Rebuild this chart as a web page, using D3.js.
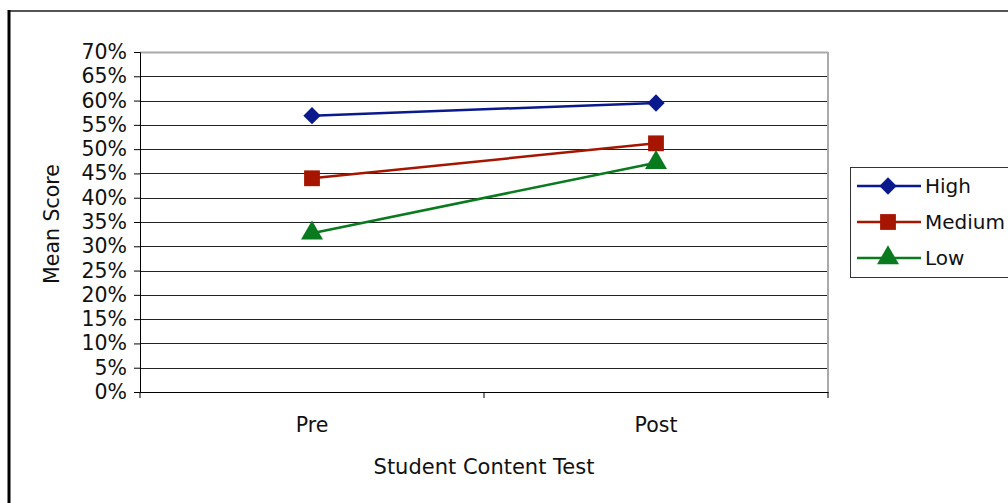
<!DOCTYPE html>
<html>
<head>
<meta charset="utf-8">
<script src="https://cdn.jsdelivr.net/npm/d3@7"></script>
<style>
  body { margin: 0; background: #fff; }
  svg { display: block; font-family: "DejaVu Sans", Verdana, sans-serif; }
</style>
</head>
<body>
<svg id="chart" width="1008" height="503"></svg>
<script>
// Dữ liệu
const categories = ["Pre", "Post"];
const seriesNames = ["High", "Medium", "Low"];
const highVals = [0.569, 0.595];
const mediumVals = [0.440, 0.512];
const lowVals = [0.327, 0.472];
const yTicks = [0, 0.05, 0.1, 0.15, 0.2, 0.25, 0.3, 0.35, 0.4, 0.45, 0.5, 0.55, 0.6, 0.65, 0.7];

const colors = { High: "#0a1a8c", Medium: "#a51500", Low: "#0a7a1e" };
const series = [
  { name: "High", values: highVals },
  { name: "Medium", values: mediumVals },
  { name: "Low", values: lowVals }
];

// Marker: kim cương = hình vuông xoay 45°
function marker(sel, name) {
  if (name === "High") {
    sel.attr("d", d3.symbol().type(d3.symbolSquare).size(150)())
      .attr("transform", function () { return d3.select(this).attr("transform") + " rotate(45)"; });
  } else if (name === "Medium") {
    sel.attr("d", d3.symbol().type(d3.symbolSquare).size(250)());
  } else {
    sel.attr("d", d3.symbol().type(d3.symbolTriangle).size(210)());
  }
}

const svg = d3.select("#chart");
const margin = { left: 140, top: 52 };
const innerW = 828 - margin.left;
const innerH = 392 - margin.top;

// Khung ngoài
svg.append("line").attr("x1", 9).attr("x2", 1008).attr("y1", 11).attr("y2", 11)
  .attr("stroke", "#555").attr("stroke-width", 2);
svg.append("line").attr("x1", 9).attr("x2", 9).attr("y1", 10).attr("y2", 503)
  .attr("stroke", "#000").attr("stroke-width", 3);

const g = svg.append("g").attr("transform", `translate(${margin.left},${margin.top})`);

const x = d3.scaleBand().domain(categories).range([0, innerW]);
const y = d3.scaleLinear().domain([0, 0.7]).range([innerH, 0]);

// Grid ngang
g.append("g")
  .selectAll("line")
  .data(yTicks.filter(t => t > 0 && t < 0.7))
  .enter().append("line")
  .attr("x1", 0).attr("x2", innerW)
  .attr("y1", d => Math.round(y(d)) + 0.5).attr("y2", d => Math.round(y(d)) + 0.5)
  .attr("stroke", "#222").attr("stroke-width", 1);

// Viền vùng vẽ (trên, phải)
g.append("line").attr("x1", 0).attr("x2", innerW).attr("y1", 0.5).attr("y2", 0.5)
  .attr("stroke", "#aaa").attr("stroke-width", 2);
g.append("line").attr("x1", innerW).attr("x2", innerW).attr("y1", 0).attr("y2", innerH)
  .attr("stroke", "#aaa").attr("stroke-width", 2);

// Trục Y
const yAxis = g.append("g")
  .call(d3.axisLeft(y).tickValues(yTicks).tickFormat(d3.format(".0%")).tickSize(6).tickPadding(7));
yAxis.select(".domain").attr("stroke", "#000");
yAxis.selectAll("line").attr("stroke", "#000");
yAxis.selectAll("text").style("font-size", "20.5px").attr("fill", "#111")
  .attr("font-family", "DejaVu Sans, Verdana, sans-serif");

// Trục X
const xAxis = g.append("g")
  .attr("transform", `translate(0,${innerH})`)
  .call(d3.axisBottom(x).tickSize(0).tickPadding(25));
xAxis.select(".domain").attr("stroke", "#000");
xAxis.selectAll("text").style("font-size", "20.5px").attr("fill", "#111")
  .attr("font-family", "DejaVu Sans, Verdana, sans-serif");
// vạch chia giữa các nhóm
const bounds = [0, ...categories.map(c => x(c) + x.bandwidth())];
g.selectAll(".xtick")
  .data(bounds)
  .enter().append("line")
  .attr("x1", d => d).attr("x2", d => d)
  .attr("y1", innerH).attr("y2", innerH + 6)
  .attr("stroke", "#000");

// Đường và marker
const line = d3.line()
  .x((d, i) => x(categories[i]) + x.bandwidth() / 2)
  .y(d => y(d));

series.forEach(s => {
  g.append("path")
    .datum(s.values)
    .attr("fill", "none")
    .attr("stroke", colors[s.name])
    .attr("stroke-width", 2.5)
    .attr("d", line);
  g.selectAll(".m-" + s.name)
    .data(s.values)
    .enter().append("path")
    .attr("transform", (d, i) => `translate(${x(categories[i]) + x.bandwidth() / 2},${y(d)})`)
    .attr("fill", colors[s.name])
    .call(marker, s.name);
});

// Nhãn trục
svg.append("text")
  .attr("x", 484).attr("y", 474)
  .attr("text-anchor", "middle")
  .style("font-size", "21px").attr("fill", "#111")
  .text("Student Content Test");

svg.append("text")
  .attr("transform", "rotate(-90)")
  .attr("x", -224).attr("y", 59)
  .attr("text-anchor", "middle")
  .style("font-size", "20.5px").attr("fill", "#111")
  .text("Mean Score");

// Chú giải
const lg = svg.append("g").attr("transform", "translate(850,167)");
lg.append("rect").attr("x", 0.5).attr("y", 0.5).attr("width", 170).attr("height", 110)
  .attr("fill", "#fff").attr("stroke", "#333").attr("stroke-width", 1);
seriesNames.forEach((name, i) => {
  const cy = 19 + i * 36;
  lg.append("line").attr("x1", 7).attr("x2", 71).attr("y1", cy).attr("y2", cy)
    .attr("stroke", colors[name]).attr("stroke-width", 2.5);
  lg.append("path")
    .attr("transform", `translate(38,${cy})`)
    .attr("fill", colors[name])
    .call(marker, name);
  lg.append("text").attr("x", 75).attr("y", cy + 7)
    .style("font-size", "20px").attr("fill", "#111")
    .text(name);
});
</script>
</body>
</html>
